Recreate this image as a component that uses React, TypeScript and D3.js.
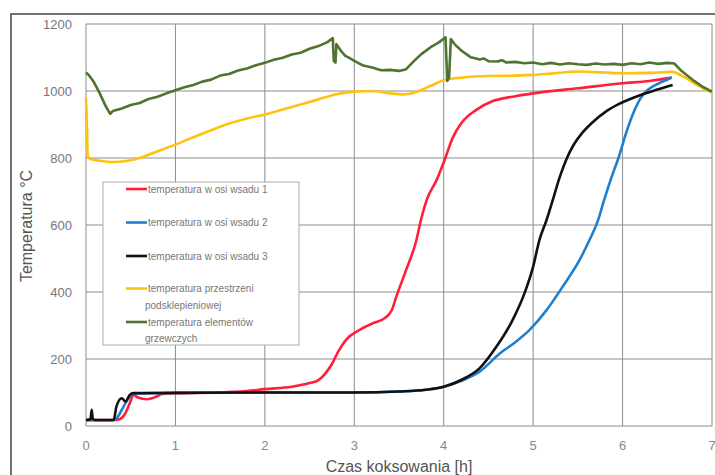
import React, { useRef, useEffect } from 'react'
import * as d3 from 'd3'

// time [h], temperature [°C]
const wsad1 = [
  [0.0, 18], [0.3, 18], [0.36, 19], [0.44, 38], [0.49, 68], [0.53, 93], [0.58, 85], [0.68, 80], [0.79, 88], [0.85, 96],
  [1.0, 98], [1.5, 100], [1.8, 104], [2.0, 110], [2.3, 117], [2.5, 128], [2.6, 137], [2.68, 158],
  [2.75, 185], [2.82, 222], [2.91, 258], [3.06, 287], [3.21, 307], [3.34, 322], [3.42, 346],
  [3.47, 386], [3.58, 466], [3.69, 550], [3.75, 620], [3.81, 675], [3.92, 734], [4.01, 794],
  [4.1, 860], [4.2, 905], [4.36, 943], [4.55, 970], [4.77, 983], [5.0, 993], [5.5, 1008],
  [6.0, 1023], [6.3, 1030], [6.55, 1040]
]

const wsad2 = [
  [0.0, 17], [0.3, 17], [0.34, 22], [0.42, 58], [0.49, 88], [0.55, 97], [1.0, 99], [2.0, 100], [3.0, 100],
  [3.5, 103], [3.8, 108], [4.0, 117], [4.2, 135], [4.4, 162], [4.63, 217], [4.8, 250],
  [4.96, 287], [5.15, 346], [5.33, 416], [5.52, 496], [5.63, 555], [5.72, 610], [5.8, 680],
  [5.88, 745], [5.96, 805], [6.04, 875], [6.13, 940], [6.2, 978], [6.28, 1003], [6.4, 1022],
  [6.49, 1033], [6.55, 1040]
]

const wsad3 = [
  [0.0, 18], [0.05, 20], [0.064, 48], [0.075, 22], [0.1, 18], [0.31, 18], [0.34, 58], [0.4, 83],
  [0.44, 73], [0.49, 93], [0.53, 98], [1.0, 99], [2.0, 100], [3.0, 100], [3.5, 103], [3.8, 108],
  [4.0, 117], [4.2, 138], [4.4, 172], [4.59, 237], [4.77, 316], [4.91, 401], [5.0, 476],
  [5.07, 555], [5.15, 615], [5.22, 675], [5.3, 745], [5.37, 795], [5.45, 838], [5.54, 872],
  [5.65, 903], [5.82, 940], [5.95, 960], [6.15, 983], [6.4, 1005], [6.56, 1018]
]

const podsklep = [
  [0.0, 978], [0.01, 900], [0.02, 805], [0.05, 797], [0.15, 792], [0.3, 788], [0.45, 791],
  [0.6, 800], [0.75, 815], [0.9, 830], [1.0, 840], [1.2, 862], [1.4, 883], [1.6, 903],
  [1.8, 918], [2.0, 930], [2.2, 945], [2.4, 960], [2.6, 975], [2.8, 990], [3.0, 998],
  [3.2, 1000], [3.4, 993], [3.55, 990], [3.7, 998], [3.85, 1015], [4.0, 1032], [4.2, 1040],
  [4.5, 1045], [4.8, 1046], [5.0, 1048], [5.2, 1052], [5.5, 1058], [5.8, 1055], [6.0, 1053],
  [6.3, 1054], [6.55, 1057], [6.7, 1040], [6.85, 1015], [7.0, 995]
]

const grzewcze = [
  [0.0, 1055], [0.03, 1048], [0.08, 1030], [0.15, 995], [0.22, 955], [0.27, 932], [0.3, 940],
  [0.4, 948], [0.5, 958], [0.6, 964], [0.7, 976], [0.8, 983], [0.9, 993], [1.0, 1002],
  [1.1, 1011], [1.2, 1018], [1.3, 1028], [1.4, 1034], [1.5, 1046], [1.6, 1051], [1.7, 1061],
  [1.8, 1067], [1.9, 1077], [2.0, 1084], [2.1, 1093], [2.2, 1099], [2.3, 1109], [2.4, 1114],
  [2.5, 1126], [2.6, 1134], [2.7, 1146], [2.76, 1158], [2.77, 1090], [2.79, 1085], [2.8, 1140],
  [2.85, 1120], [2.9, 1105], [2.95, 1098], [3.0, 1090], [3.1, 1076], [3.2, 1070], [3.3, 1062],
  [3.4, 1063], [3.5, 1060], [3.58, 1065], [3.65, 1085], [3.75, 1110], [3.85, 1130],
  [3.95, 1146], [4.02, 1160], [4.04, 1030], [4.06, 1040], [4.08, 1155], [4.12, 1140],
  [4.2, 1120], [4.3, 1101], [4.35, 1098], [4.4, 1094], [4.45, 1097], [4.5, 1089], [4.6, 1088],
  [4.65, 1092], [4.7, 1085], [4.8, 1087], [4.9, 1083], [5.0, 1085], [5.1, 1080], [5.2, 1084],
  [5.3, 1079], [5.4, 1083], [5.5, 1080], [5.6, 1078], [5.7, 1082], [5.8, 1079], [5.9, 1081],
  [6.0, 1078], [6.1, 1083], [6.2, 1080], [6.3, 1085], [6.4, 1081], [6.5, 1084], [6.58, 1082],
  [6.65, 1062], [6.8, 1030], [6.9, 1012], [7.0, 998]
]

const xTicks = [0, 1, 2, 3, 4, 5, 6, 7]
const yTicks = [0, 200, 400, 600, 800, 1000, 1200]

const series = [
  { name: ['temperatura w osi wsadu 1'], data: wsad1, color: '#ff1f3d', smooth: true },
  { name: ['temperatura w osi wsadu 2'], data: wsad2, color: '#1f7fcf', smooth: true },
  { name: ['temperatura w osi wsadu 3'], data: wsad3, color: '#111111', smooth: true },
  { name: ['temperatura przestrzeni', 'podsklepieniowej'], data: podsklep, color: '#ffc20e', smooth: true },
  { name: ['temperatura elementów', 'grzewczych'], data: grzewcze, color: '#4f7430', smooth: false }
]

export default function App() {
  const ref = useRef<SVGSVGElement>(null)
  const layout = { width: 715, height: 475, left: 86, right: 712, top: 24, bottom: 426 }

  useEffect(() => {
    const svg = d3.select(ref.current)
    svg.selectAll('*').remove()

    const xScale = d3.scaleLinear().domain([0, 7]).range([layout.left, layout.right])
    const yScale = d3.scaleLinear().domain([0, 1200]).range([layout.bottom, layout.top])

    svg.append('rect').attr('width', layout.width).attr('height', layout.height).attr('fill', '#fff')

    svg.append('rect')
      .attr('x', 11).attr('y', 14).attr('width', 720).attr('height', 480)
      .attr('fill', 'none').attr('stroke', '#444').attr('stroke-width', 1.5)

    const grid = svg.append('g')
    grid.selectAll('.vgrid').data(xTicks).join('line')
      .attr('x1', d => xScale(d)).attr('x2', d => xScale(d))
      .attr('y1', layout.top).attr('y2', layout.bottom)
      .attr('stroke', '#8c8c8c').attr('stroke-width', 1)
    grid.selectAll('.hgrid').data(yTicks).join('line')
      .attr('x1', layout.left).attr('x2', layout.right)
      .attr('y1', d => yScale(d)).attr('y2', d => yScale(d))
      .attr('stroke', '#8c8c8c').attr('stroke-width', 1)

    const font = 'Liberation Sans, Arial, sans-serif'

    svg.append('g').selectAll('text').data(yTicks).join('text')
      .attr('x', 72).attr('y', d => yScale(d) + 5)
      .attr('text-anchor', 'end').attr('font-family', font).attr('font-size', 13)
      .attr('fill', '#777').text(d => d)

    svg.append('g').selectAll('text').data(xTicks).join('text')
      .attr('x', d => xScale(d)).attr('y', 450)
      .attr('text-anchor', 'middle').attr('font-family', font).attr('font-size', 13)
      .attr('fill', '#888').text(d => d)

    svg.append('text')
      .attr('x', 399).attr('y', 472).attr('text-anchor', 'middle')
      .attr('font-family', font).attr('font-size', 16).attr('fill', '#555')
      .text('Czas koksowania [h]')

    svg.append('text')
      .attr('transform', 'translate(32, 226) rotate(-90)').attr('text-anchor', 'middle')
      .attr('font-family', font).attr('font-size', 16).attr('fill', '#555')
      .text('Temperatura °C')

    const smoothLine = d3.line<number[]>().x(d => xScale(d[0])).y(d => yScale(d[1])).curve(d3.curveMonotoneX)
    const rawLine = d3.line<number[]>().x(d => xScale(d[0])).y(d => yScale(d[1]))

    svg.append('g').selectAll('path').data(series).join('path')
      .attr('d', d => (d.smooth ? smoothLine : rawLine)(d.data))
      .attr('fill', 'none').attr('stroke', d => d.color)
      .attr('stroke-width', 2.6).attr('stroke-linejoin', 'round')

    // legend
    const legend = svg.append('g')
    legend.append('rect')
      .attr('x', 103).attr('y', 182).attr('width', 196).attr('height', 163)
      .attr('fill', '#fff').attr('stroke', '#aaa').attr('stroke-width', 1)

    const rowY = [189, 222.5, 256, 288.5, 322]
    series.forEach((s, i) => {
      const y = rowY[i]
      legend.append('line')
        .attr('x1', 126).attr('x2', 147).attr('y1', y).attr('y2', y)
        .attr('stroke', s.color).attr('stroke-width', 2.6)
      s.name.forEach((t, j) => {
        legend.append('text')
          .attr('x', j === 0 ? 148 : 145).attr('y', y + 3.5 + j * 16.5)
          .attr('font-family', font).attr('font-size', 10).attr('fill', '#777')
          .text(t)
      })
    })
  }, [])

  return (
    <div style={{ position: 'absolute', left: 0, top: 0 }}>
      <svg width={layout.width} height={layout.height} ref={ref} style={{ display: 'block' }} />
    </div>
  )
}
